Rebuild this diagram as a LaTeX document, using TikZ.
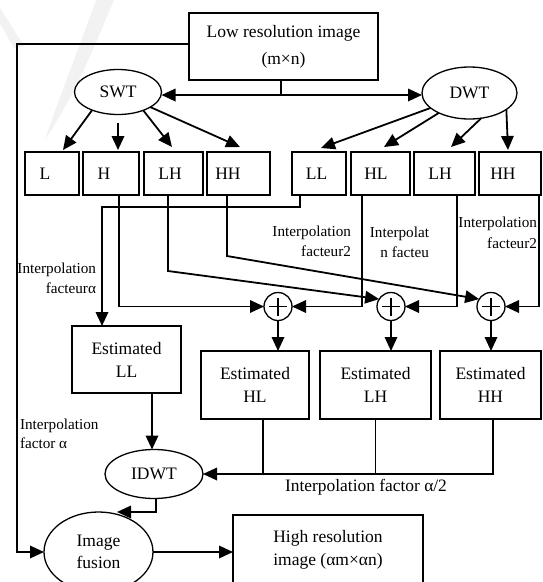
\documentclass[tikz,border=0pt]{standalone}
\usepackage{fontspec}
\setmainfont{Liberation Serif}
\usetikzlibrary{shapes.geometric,arrows.meta}
\begin{document}
\begin{tikzpicture}[x=1pt,y=-1pt,
  every node/.style={inner sep=0pt,outer sep=0pt},
  sbox/.style={draw,line width=1.3pt,rectangle,minimum height=43pt,font=\fontsize{17.5}{21}\selectfont},
  ebox/.style={draw,line width=1.3pt,rectangle,align=center,font=\fontsize{17.5}{23}\selectfont},
  ell/.style={draw,line width=1.3pt,ellipse,align=center,font=\fontsize{17.5}{22}\selectfont},
  pl/.style={draw,line width=1.3pt,circle,minimum size=28pt,
    path picture={\draw[line width=1.3pt] ([xshift=-9pt]path picture bounding box.center) -- ([xshift=9pt]path picture bounding box.center)
      ([yshift=-9pt]path picture bounding box.center) -- ([yshift=9pt]path picture bounding box.center);}},
  lbl/.style={font=\fontsize{15.2}{20}\selectfont},
  arr/.style={line width=1.8pt,-{Triangle[length=14pt,width=12.5pt]}},
  ln/.style={line width=1.7pt}]
\useasboundingbox (0,0) rectangle (542,582);
\clip (0,0) rectangle (542,582);
% faint watermark
\fill[gray!10] (96,0) -- (114,0) .. controls (95,45) and (75,95) .. (45,140) .. controls (60,95) and (80,45) .. (96,0);
\fill[gray!10] (0,8) .. controls (8,20) and (15,32) .. (24,46) -- (14,48) .. controls (8,38) and (4,30) .. (0,24) -- cycle;
% nodes
\node[ebox,minimum width=189pt,minimum height=67pt,font=\fontsize{17.5}{27}\selectfont] (low) at (283.5,46.5) {Low resolution image\\(m×n)};
\node[ell,minimum width=87pt,minimum height=45pt] (swt) at (118,92) {SWT};
\node[ell,minimum width=95pt,minimum height=52pt] (dwt) at (469.5,93) {DWT};
\node[sbox,minimum width=54pt] (L) at (52,173.5) {L\hspace*{14pt}};
\node[sbox,minimum width=56pt] (H) at (111,173.5) {H\hspace*{14pt}};
\node[sbox,minimum width=59pt] (LHa) at (173.5,173.5) {LH\hspace*{7pt}};
\node[sbox,minimum width=63pt] (HHa) at (238.5,173.5) {HH\hspace*{21pt}};
\node[sbox,minimum width=54pt] (LL) at (319,173.5) {LL\hspace*{5pt}};
\node[sbox,minimum width=59pt] (HL) at (380.5,173.5) {HL\hspace*{9pt}};
\node[sbox,minimum width=61pt] (LHb) at (444.5,173.5) {LH\hspace*{9pt}};
\node[sbox,minimum width=62pt] (HHb) at (510,173.5) {HH\hspace*{14pt}};
\node[pl] (p1) at (278,306.5) {};
\node[pl] (p2) at (391,306.5) {};
\node[pl] (p3) at (491,306.5) {};
\node[ebox,minimum width=109pt,minimum height=67pt] (estLL) at (126.5,359.5) {Estimated\\LL};
\node[ebox,minimum width=108pt,minimum height=68pt] (estHL) at (255,385) {Estimated\\HL};
\node[ebox,minimum width=111pt,minimum height=68pt] (estLH) at (375.5,385) {Estimated\\LH};
\node[ebox,minimum width=101pt,minimum height=68pt] (estHH) at (490.5,385) {Estimated\\HH};
\node[ell,minimum width=98pt,minimum height=49pt] (idwt) at (154,474) {IDWT};
\node[ell,minimum width=109pt,minimum height=80pt] (fusion) at (98.5,552) {Image\\fusion};
\node[draw,line width=1.3pt,rectangle,align=left,minimum width=190pt,minimum height=69pt,font=\fontsize{17.5}{23}\selectfont] (hires) at (328,549.5) {High resolution\\image (αm×αn)};
% labels
\node[lbl,align=right,anchor=east] (t1) at (96,278) {Interpolation\\facteurα};
\node[lbl,align=right,anchor=east] (t2) at (351,241.5) {Interpolation\\facteur2};
\node[lbl,align=right,anchor=east] (t3) at (429,242) {Interpolat\\n facteu};
\node[lbl,align=right,anchor=east,font=\fontsize{15.2}{21.5}\selectfont] (t4) at (537,233) {Interpolation\\facteur2};
\node[lbl,align=left,anchor=west,font=\fontsize{15.2}{19}\selectfont] (t5) at (20,434) {Interpolation\\factor α};
\node[font=\fontsize{17.4}{20}\selectfont] (t6) at (366,487) {Interpolation factor α/2};
% connectors
\coordinate (j) at (281,95);
\draw[ln] (j |- low.south) -- (j);
\draw[arr] (j) -- (j -| swt.east);
\draw[arr] (j) -- (j -| dwt.west);
\draw[arr] ([yshift=2.5pt]low.west) -- ++(-172,0) |- (fusion.west);
\draw[arr] (swt.215) -- ([xshift=11pt,yshift=2pt]L.north);
\draw[arr] ([yshift=-8pt]swt.south) -- ([yshift=2pt]swt.south |- H.north);
\draw[arr] (swt.-36) -- ([xshift=-1.5pt,yshift=5pt]LHa.north);
\draw[arr] (swt.-25) -- ([xshift=1.5pt,yshift=5pt]HHa.north);
\draw[arr] (dwt.201) -- ([xshift=2pt,yshift=4pt]LL.north);
\draw[arr] (dwt.213) -- ([xshift=3.5pt,yshift=5pt]HL.north);
\draw[arr] (dwt.-65) -- ([xshift=6.5pt,yshift=5pt]LHb.north);
\draw[arr] (dwt.-24) -- ([xshift=-2pt,yshift=2pt]HHb.north);
\draw[arr] ([xshift=-19pt]LL.south) -- ++(0,12) -| ([xshift=-24.5pt]estLL.north);
\draw[arr] ([xshift=8pt]H.south) |- (p1.west);
\draw[arr] ([xshift=-5.5pt]LHa.south) -- ++(0,76) -- (p2.148);
\draw[arr] ([xshift=-11.5pt]HHa.south) -- ++(0,61) -- (p3.148);
\draw[arr] ([xshift=-18.5pt]HL.south) |- (p1.east);
\draw[arr] ([xshift=12.5pt]LHb.south) |- (p2.east);
\draw[arr] ([xshift=29pt]HHb.south) |- (p3.east);
\draw[arr] (p1.south) -- (p1.south |- estHL.north);
\draw[arr] (p2.south) -- (p2.south |- estLH.north);
\draw[arr] (p3.south) -- (p3.south |- estHH.north);
\draw[arr] ([xshift=25.5pt]estLL.south) -- ([xshift=25.5pt]estLL.south |- idwt.north);
\draw[ln] ([xshift=8pt]estHL.south) -- ([xshift=8pt]estHL.south |- idwt.east);
\draw[ln] (estLH.south) -- (estLH.south |- idwt.east);
\draw[arr] ([xshift=2.5pt]estHH.south) |- (idwt.east);
\draw[arr] ([xshift=2pt]idwt.south) |- ([xshift=18.5pt]fusion.north);
\draw[arr] (fusion.east) -- (fusion.east -| hires.west);
\end{tikzpicture}
\end{document}
